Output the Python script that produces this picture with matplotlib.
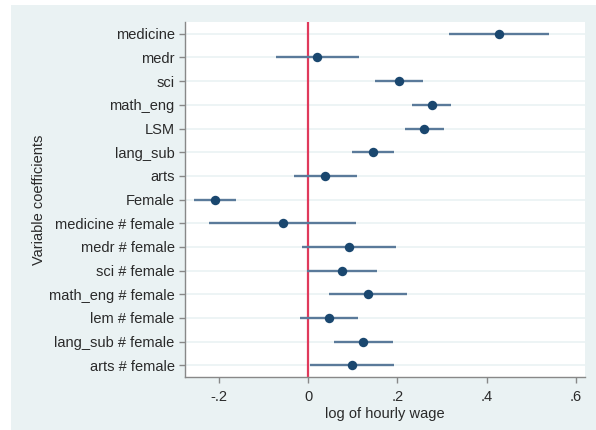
import matplotlib
matplotlib.use("Agg")
import matplotlib.pyplot as plt
from matplotlib.patches import Rectangle
import numpy as np

plt.rcParams['font.family'] = ['Liberation Sans', 'DejaVu Sans']

labels = ["medicine", "medr", "sci", "math_eng", "LSM", "lang_sub", "arts", "Female",
          "medicine # female", "medr # female", "sci # female", "math_eng # female",
          "lem # female", "lang_sub # female", "arts # female"]
coef = [0.428, 0.020, 0.203, 0.278, 0.260, 0.144, 0.038, -0.209,
        -0.058, 0.091, 0.076, 0.134, 0.046, 0.123, 0.099]
ci_low = [0.315, -0.072, 0.150, 0.233, 0.216, 0.097, -0.033, -0.256,
          -0.224, -0.015, -0.002, 0.047, -0.019, 0.058, 0.004]
ci_high = [0.540, 0.113, 0.257, 0.321, 0.305, 0.192, 0.110, -0.162,
           0.106, 0.197, 0.155, 0.221, 0.111, 0.189, 0.193]
xticks = [-0.2, 0, 0.2, 0.4, 0.6]
xticklabels = ["-.2", "0", ".2", ".4", ".6"]

W, H = 596, 430
fig = plt.figure(figsize=(W / 100, H / 100), dpi=100, facecolor="white")

# light graph-region panel behind the plot
fig.patches.append(Rectangle((11 / W, 0), 1 - 11 / W, 1 - 5 / H, transform=fig.transFigure,
                             facecolor="#eaf2f3", edgecolor="none", zorder=-10))

ax = fig.add_axes([185 / W, 53 / H, 400 / W, 355 / H])
ax.set_zorder(1)
ax.set_facecolor("white")

n = len(labels)
y = np.arange(n)

for yi in y:
    ax.axhline(yi, color="#eaf2f3", lw=1.2, zorder=1)

ax.axvline(0, color="#e03a5c", lw=1.6, zorder=2)

ax.hlines(y, ci_low, ci_high, color="#5a7a9a", lw=1.7, zorder=3)
ax.plot(coef, y, "o", color="#1a476f", markersize=6.8, zorder=4, markeredgewidth=0)

ax.set_ylim(n - 0.5, -0.5)
ax.set_xlim(-0.277, 0.621)
ax.set_yticks(y)
ax.set_yticklabels(labels)
ax.set_xticks(xticks)
ax.set_xticklabels(xticklabels)

for s in ["top", "right"]:
    ax.spines[s].set_visible(False)
for s in ["left", "bottom"]:
    ax.spines[s].set_color("#888888")
    ax.spines[s].set_linewidth(1.0)

ax.tick_params(axis="both", colors="#888888", labelcolor="#2a2a2a", labelsize=10.5,
               length=4.5, width=1.0)
ax.tick_params(axis="y", pad=3)
ax.tick_params(axis="x", pad=5)

ax.set_xlabel("log of hourly wage", fontsize=10.5, color="#2a2a2a", labelpad=2)
ax.set_ylabel("Variable coefficients", fontsize=10.5, color="#2a2a2a", labelpad=2)

fig.savefig("out.png", dpi=100, facecolor=fig.get_facecolor())
